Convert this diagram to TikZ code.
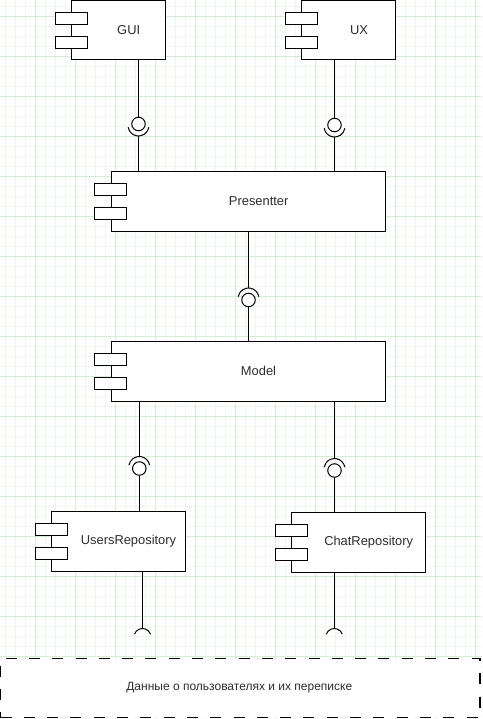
\documentclass[tikz,border=0pt]{standalone}
\usepackage{fontspec}
\setmainfont{Liberation Sans}
\usetikzlibrary{calc}
\definecolor{gridmajor}{RGB}{214,236,214}
\definecolor{gridminor}{RGB}{237,247,237}
\definecolor{txt}{RGB}{45,45,45}
\newcommand{\umlcomp}[7]{%
  \node[compbody, minimum width={#4-#2}, minimum height={#5-#3}] (#1) at ({(#2+#4)/2},{(#3+#5)/2}) {};
  \draw[port] ($(#1.west)+(-16,-18)$) rectangle ($(#1.west)+(16,-6)$);
  \draw[port] ($(#1.west)+(-16,6)$) rectangle ($(#1.west)+(16,18)$);
  \node[lbl, font=\fontsize{12.9}{15}\selectfont] (#1-t) at (#6,{(#3+#5)/2}) {#7};
}
\begin{document}
\begin{tikzpicture}[x=1pt,y=-1pt,
  lbl/.style={font=\fontsize{12}{14}\selectfont, text=txt, inner sep=0pt},
  compbody/.style={draw=black, fill=white, line width=1pt, inner sep=0pt},
  port/.style={draw=black, fill=white, line width=1pt},
  wire/.style={draw=black, line width=1pt},
  ball/.style={circle, draw=black, fill=white, line width=1pt, minimum size=13.5pt, inner sep=0pt},
  datastore/.style={draw=black, fill=white, line width=1.5pt, dash pattern=on 11pt off 12.3pt, inner sep=0pt}]
\useasboundingbox (0,0) rectangle (482,719);
\fill[white] (0,0) rectangle (482,719);
% grid
\foreach \x in {5.3,15.3,...,482} \draw[gridminor, line width=0.8pt] (\x,0) -- (\x,719);
\foreach \y in {6,16,...,719} \draw[gridminor, line width=0.8pt] (0,\y) -- (482,\y);
\foreach \x in {35.3,75.3,...,482} \draw[gridmajor, line width=0.8pt] (\x,0) -- (\x,719);
\foreach \y in {16,56,...,719} \draw[gridmajor, line width=0.8pt] (0,\y) -- (482,\y);

% components
\umlcomp{gui}{71.7}{0.5}{165.3}{60}{128.7}{GUI}
\umlcomp{ux}{301.7}{0.5}{395.3}{60}{359}{UX}
\umlcomp{pres}{111.3}{171.3}{385.3}{231}{258.7}{Presentter}
\umlcomp{model}{111.3}{341}{385.3}{401}{258.5}{Model}
\umlcomp{users}{51.5}{511.3}{185.3}{571.3}{128.5}{UsersRepository}
\umlcomp{chat}{291.7}{512.3}{425.3}{572}{368.7}{ChatRepository}

% data store
\node[datastore, minimum width=479.5pt, minimum height=59pt] (data) at (240.3,688) {};
\node[lbl] (data-t) at (239.3,687.7) {Данные о пользователях и их переписке};

% GUI -> Presentter
\node[ball] (b1) at (138.5,124) {};
\draw[wire] (b1 |- gui.south) -- (b1.north);
\draw[wire] ($(b1)+(0,1.5)$) ++(10:10.5) arc[start angle=10, end angle=170, radius=10.5];
\coordinate (s1) at ($(b1)+(0,12)$);
\draw[wire] (s1) -- (s1 |- pres.north);

% UX -> Presentter
\node[ball] (b2) at (334.5,125) {};
\draw[wire] (b2 |- ux.south) -- (b2.north);
\draw[wire] ($(b2)+(0,1.5)$) ++(10:10.5) arc[start angle=10, end angle=170, radius=10.5];
\coordinate (s2) at ($(b2)+(0,12)$);
\draw[wire] (s2) -- (s2 |- pres.north);

% Presentter -> Model
\node[ball] (b3) at (248.5,300) {};
\coordinate (s3) at ($(b3)+(0,-12)$);
\draw[wire] (s3 |- pres.south) -- (s3);
\draw[wire] ($(b3)+(0,-1.5)$) ++(190:10.5) arc[start angle=190, end angle=350, radius=10.5];
\draw[wire] (b3.south) -- (b3 |- model.north);

% Model -> UsersRepository
\node[ball] (b4) at (139.3,468.5) {};
\coordinate (s4) at ($(b4)+(0,-12)$);
\draw[wire] (s4 |- model.south) -- (s4);
\draw[wire] ($(b4)+(0,-1.5)$) ++(190:10.5) arc[start angle=190, end angle=350, radius=10.5];
\draw[wire] (b4.south) -- (b4 |- users.north);

% Model -> ChatRepository
\node[ball] (b5) at (334.5,470.5) {};
\coordinate (s5) at ($(b5)+(0,-12)$);
\draw[wire] (s5 |- model.south) -- (s5);
\draw[wire] ($(b5)+(0,-1.5)$) ++(190:10.5) arc[start angle=190, end angle=350, radius=10.5];
\draw[wire] (b5.south) -- (b5 |- chat.north);

% UsersRepository -> open socket
\coordinate (o1) at (142.5,628.5);
\draw[wire] (o1 |- users.south) -- (o1);
\draw[wire] ($(o1)+(0,8.5)$) ++(200:8.5) arc[start angle=200, end angle=340, radius=8.5];

% ChatRepository -> open socket
\coordinate (o2) at (334.3,628.5);
\draw[wire] (o2 |- chat.south) -- (o2);
\draw[wire] ($(o2)+(0,8.5)$) ++(200:8.5) arc[start angle=200, end angle=340, radius=8.5];
\end{tikzpicture}
\end{document}
